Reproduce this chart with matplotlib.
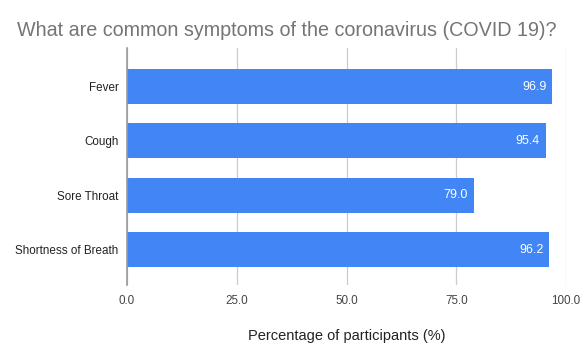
import matplotlib.pyplot as plt

symptoms = ['Fever', 'Cough', 'Sore Throat', 'Shortness of Breath']
percentages = [96.9, 95.4, 79.0, 96.2]
x_ticks = [0, 25, 50, 75, 100]

plt.rcParams['font.family'] = ['Liberation Sans', 'DejaVu Sans']

fig = plt.figure(figsize=(5.83, 3.6), dpi=100)
ax = fig.add_axes([127 / 583, 1 - 285 / 360, (566 - 127) / 583, (285 - 48) / 360])

pos = list(range(len(symptoms)))
ax.barh(pos, percentages, height=0.645, color='#4285f4', zorder=3)
for p, v in zip(pos, percentages):
	ax.text(v - 1.3, p, '%1.1f' % v, color='white', fontsize=9,
			ha='right', va='center', zorder=4)

ax.set_xlim(0, 100)
ax.set_ylim(3.653, -0.709)
ax.set_yticks(pos)
ax.set_yticklabels(symptoms, fontsize=8.4, color='#222222')
ax.set_xticks(x_ticks)
ax.set_xticklabels(['%1.1f' % t for t in x_ticks], fontsize=8.4, color='#444444')
ax.tick_params(axis='both', length=0, pad=6)
ax.tick_params(axis='x', pad=7)
ax.grid(axis='x', color='#cccccc', linewidth=0.9, zorder=0)
for s in ['top', 'right', 'bottom']:
	ax.spines[s].set_visible(False)
ax.spines['left'].set_color('#999999')
ax.spines['left'].set_linewidth(1.2)
ax.spines['left'].set_zorder(5)

ax.set_xlabel('Percentage of participants (%)', fontsize=10.5, color='#222222', labelpad=16)
fig.text(17 / 583, 1 - 30 / 360, 'What are common symptoms of the coronavirus (COVID 19)?',
		 fontsize=14.2, color='#757575', ha='left', va='center')

fig.savefig('out.png', dpi=100)
